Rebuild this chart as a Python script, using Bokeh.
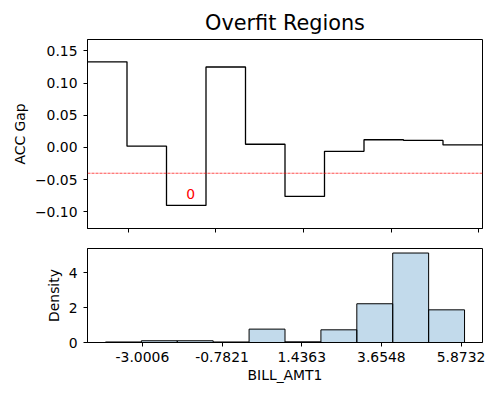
from bokeh.plotting import figure
from bokeh.layouts import column
from bokeh.models import Range1d, FixedTicker, CustomJSTickFormatter, Span, ColumnDataSource, Title
from bokeh.core.properties import value
from bokeh.embed import file_html
from bokeh.resources import INLINE

# ---- data ----
bin_edges = [-4.03, -3.03, -2.03, -1.03, -0.03, 0.97, 1.97, 2.97, 3.97, 4.97, 5.97]
acc_gap = [0.133, 0.002, -0.090, 0.125, 0.005, -0.076, -0.006, 0.012, 0.011, 0.004]
density = [0.03, 0.10, 0.10, 0.03, 0.77, 0.04, 0.73, 2.23, 5.15, 1.88]
threshold = -0.04
region_bins = [2]
region_labels = ["0"]
x_ticks = [-3.0006, -0.7821, 1.4363, 3.6548, 5.8732]
x_tick_labels = ["-3.0006", "-0.7821", "1.4363", "3.6548", "5.8732"]
gap_ticks = [-0.10, -0.05, 0.0, 0.05, 0.10, 0.15]
density_ticks = [0, 2, 4]

FONT = "DejaVu Sans"
FS = "13.9px"

def style(p):
    p.xgrid.visible = False
    p.ygrid.visible = False
    p.outline_line_color = "black"
    p.outline_line_width = 1
    p.outline_line_alpha = 1
    p.background_fill_color = "white"
    p.border_fill_color = "white"
    for ax in (p.xaxis[0], p.yaxis[0]):
        ax.axis_line_color = "black"
        ax.major_tick_line_color = "black"
        ax.major_tick_out = 4
        ax.major_tick_in = 0
        ax.minor_tick_line_color = None
        ax.major_label_text_font = FONT
        ax.major_label_text_font_size = FS
        ax.major_label_text_color = "black"
        ax.axis_label_text_font = FONT
        ax.axis_label_text_font_size = FS
        ax.axis_label_text_font_style = "normal"
        ax.axis_label_text_color = "black"

# ---- top: ACC gap step ----
top = figure(width=500, height=240, output_backend="svg", toolbar_location=None,
             x_range=Range1d(bin_edges[0], bin_edges[-1]),
             y_range=Range1d(-0.1258, 0.1677),
             min_border_left=87, min_border_right=18, min_border_top=39, min_border_bottom=12)
top.title = Title(text="Overfit Regions", align="center", text_font=FONT,
                  text_font_size="20.8px", text_font_style="normal", text_color="black",
                  standoff=10)
style(top)
top.step(x=bin_edges, y=acc_gap + [acc_gap[-1]], mode="after", line_color="black", line_width=1.3)
top.add_layout(Span(location=threshold, dimension="width", line_color="red",
                    line_width=0.7, line_dash="3 1"))
lbl_x = [(bin_edges[i] + bin_edges[i + 1]) / 2 for i in region_bins]
lbl_y = [acc_gap[i] + 0.01 for i in region_bins]
top.text(x=lbl_x, y=lbl_y, text=region_labels, text_color="red", text_font=value(FONT),
         text_font_size=FS, text_align="left", text_baseline="bottom")
top.xaxis.ticker = FixedTicker(ticks=x_ticks)
top.xaxis.formatter = CustomJSTickFormatter(code="return '';")
top.xaxis.major_label_standoff = 0
top.yaxis.ticker = FixedTicker(ticks=gap_ticks)
top.yaxis.formatter = CustomJSTickFormatter(code="return tick.toFixed(2).replace('-', '\u2212');")
top.yaxis.axis_label = "ACC Gap"
top.yaxis.major_label_standoff = 6
top.yaxis.axis_label_standoff = 4

# ---- bottom: density histogram ----
bot = figure(width=500, height=160, output_backend="svg", toolbar_location=None,
             x_range=Range1d(-4.53, 6.47), y_range=Range1d(0, 5.41),
             min_border_left=87, min_border_right=18, min_border_top=8, min_border_bottom=58)
style(bot)
src = ColumnDataSource(dict(left=bin_edges[:-1], right=bin_edges[1:], top=density,
                            bottom=[0] * len(density)))
bot.quad(left="left", right="right", top="top", bottom="bottom", source=src,
         fill_color="#1f77b4", fill_alpha=0.27, line_color="black", line_width=1)
bot.xaxis.ticker = FixedTicker(ticks=x_ticks)
bot.xaxis.major_label_overrides = {t: s for t, s in zip(x_ticks, x_tick_labels)}
bot.xaxis.axis_label = "BILL_AMT1"
bot.xaxis.major_label_standoff = 5
bot.xaxis.axis_label_standoff = 2
bot.yaxis.ticker = FixedTicker(ticks=density_ticks)
bot.yaxis.axis_label = "Density"
bot.yaxis.major_label_standoff = 6
bot.yaxis.axis_label_standoff = 4

layout = column(top, bot, spacing=0)
open("out.html", "w").write(file_html(layout, INLINE))
